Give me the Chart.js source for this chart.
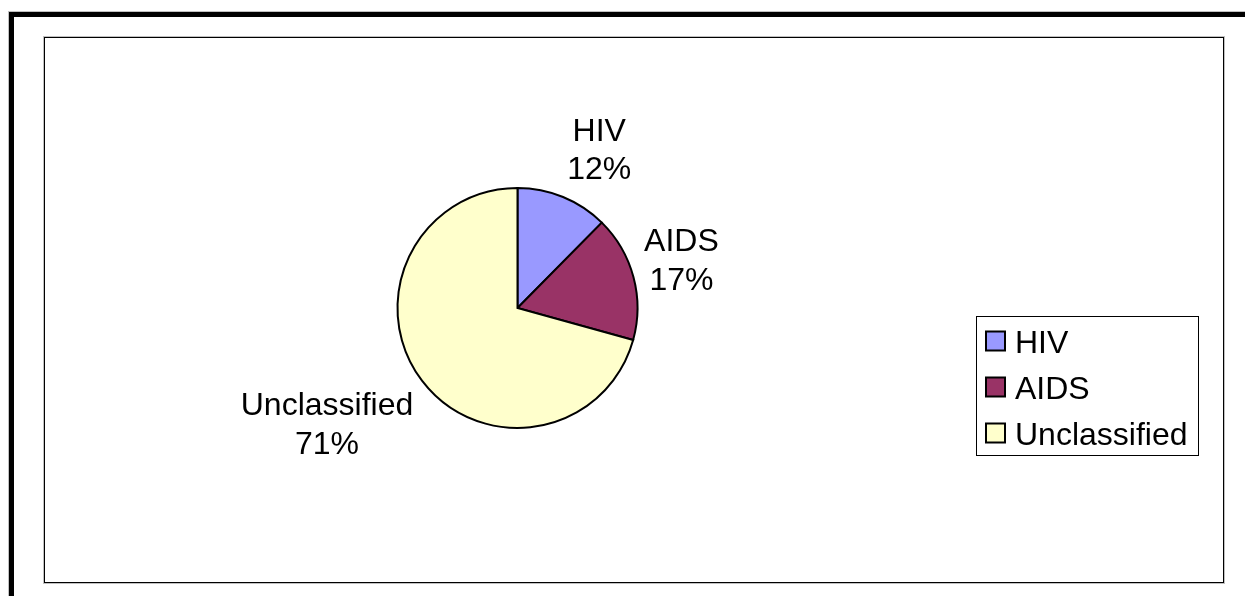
<!DOCTYPE html>
<html><head><meta charset="utf-8">
<script src="https://cdn.jsdelivr.net/npm/chart.js@4/dist/chart.umd.min.js"></script>
<style>html,body{margin:0;padding:0;background:#fff;overflow:hidden}#wrap{width:1245px;height:596px;position:relative}canvas{display:block}</style>
</head><body><div id="wrap"><canvas id="c" width="1245" height="596"></canvas></div>
<script>
// ---- data ----
const categories = ['HIV', 'AIDS', 'Unclassified'];
const shares = [12.4, 16.9, 70.7];
const sliceColors = ['#9999FF', '#993366', '#FFFFCC'];

// ---- style ----
const FS = 32;
const FONT = FS + 'px "Liberation Sans", Arial, sans-serif';
const LINE_H = 38.4;
const CAP = 0.716 * FS;
const GAP = 11;

const framePlugin = {
  id: 'frames',
  beforeDraw(chart) {
    const ctx = chart.ctx;
    ctx.save();
    ctx.fillStyle = '#fff';
    ctx.fillRect(0, 0, chart.width, chart.height);
    // outer thick frame (left + top)
    ctx.fillStyle = '#c0c0c0';
    ctx.fillRect(8, 11, chart.width - 8, 1);
    ctx.fillRect(8, 11, 1, chart.height - 11);
    ctx.fillStyle = '#000';
    ctx.fillRect(9, 12, chart.width - 9, 5);
    ctx.fillRect(9, 12, 5, chart.height - 12);
    // inner plot frame
    ctx.strokeStyle = '#c0c0c0';
    ctx.lineWidth = 1;
    ctx.strokeRect(43.5, 36.5, 1181, 547);
    ctx.strokeStyle = '#000';
    ctx.strokeRect(44.5, 37.5, 1179, 545);
    ctx.restore();
  }
};

const labelPlugin = {
  id: 'sliceLabels',
  afterDatasetsDraw(chart) {
    const ctx = chart.ctx;
    const meta = chart.getDatasetMeta(0);
    const data = chart.data.datasets[0].data;
    const total = data.reduce((a, b) => a + b, 0);
    ctx.save();
    ctx.font = FONT;
    ctx.fillStyle = '#000';
    ctx.textAlign = 'center';
    ctx.textBaseline = 'alphabetic';
    meta.data.forEach((arc, i) => {
      const p = arc.getProps(['x', 'y', 'startAngle', 'endAngle', 'outerRadius'], true);
      const mid = (p.startAngle + p.endAngle) / 2;
      const dx = Math.cos(mid), dy = Math.sin(mid);
      const px = p.x + (p.outerRadius + GAP) * dx;
      const py = p.y + (p.outerRadius + GAP) * dy;
      const lines = [chart.data.labels[i], Math.round(data[i] / total * 100) + '%'];
      const w = Math.max(...lines.map(l => ctx.measureText(l).width));
      const h = lines.length * LINE_H;
      const cx = dx >= 0 ? px + w / 2 : px - w / 2;
      const k = Math.max(-1, Math.min(1, dy / 0.65));
      const cy = py + (h / 2) * k;
      lines.forEach((l, j) => {
        const lc = cy - h / 2 + LINE_H * (j + 0.5);
        ctx.fillText(l, cx, lc + CAP / 2);
      });
    });
    ctx.restore();
  }
};

const legendPlugin = {
  id: 'boxLegend',
  afterDraw(chart) {
    const ctx = chart.ctx;
    const labels = chart.data.labels;
    const cols = chart.data.datasets[0].backgroundColor;
    ctx.save();
    ctx.fillStyle = '#fff';
    ctx.fillRect(976, 316, 222, 139);
    ctx.strokeStyle = '#000';
    ctx.lineWidth = 1;
    ctx.strokeRect(976.5, 316.5, 222, 139);
    ctx.font = FONT;
    ctx.textAlign = 'left';
    ctx.textBaseline = 'alphabetic';
    labels.forEach((lab, i) => {
      const cyRow = 341.5 + 46 * i;
      ctx.fillStyle = cols[i];
      ctx.fillRect(986, cyRow - 10, 19, 19);
      ctx.strokeStyle = '#000';
      ctx.lineWidth = 2;
      ctx.strokeRect(986, cyRow - 10, 19, 19);
      ctx.fillStyle = '#000';
      ctx.fillText(lab, 1015, cyRow + CAP / 2);
    });
    ctx.restore();
  }
};

new Chart(document.getElementById('c'), {
  type: 'pie',
  data: {
    labels: categories,
    datasets: [{
      data: shares,
      backgroundColor: sliceColors,
      borderColor: '#000',
      borderWidth: 2,
      borderJoinStyle: 'miter'
    }]
  },
  options: {
    responsive: false,
    devicePixelRatio: 1,
    animation: false,
    radius: 120,
    layout: { padding: { left: 300, right: 510, top: 150, bottom: 130 } },
    plugins: { legend: { display: false }, tooltip: { enabled: false } }
  },
  plugins: [framePlugin, labelPlugin, legendPlugin]
});
</script>
</body></html>
